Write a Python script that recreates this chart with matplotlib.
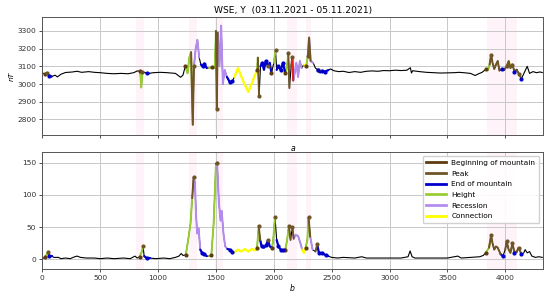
import numpy as np
import matplotlib
matplotlib.use("Agg")
import matplotlib.pyplot as plt

# ---- data (minutes since 03.11.2021 00:00) ----
top_x = [0, 20, 40, 60, 80, 110, 130, 160, 200, 260, 300, 340, 400, 450, 500, 560, 620, 680, 740, 790,
         820, 845, 855, 865, 900, 920, 960, 1020, 1080, 1120, 1150, 1175, 1195, 1215, 1235, 1255, 1270,
         1285, 1300, 1310, 1325, 1340, 1355, 1370, 1385, 1400, 1420, 1440, 1470, 1490, 1500, 1508, 1515,
         1530, 1545, 1560, 1575, 1595, 1620, 1640, 1660, 1690, 1740, 1780, 1820, 1855, 1862, 1873, 1885,
         1900, 1915, 1930, 1950, 1965, 1980, 2000, 2015, 2025, 2040, 2060, 2080, 2100, 2115, 2125, 2135,
         2150, 2160, 2168, 2180, 2195, 2210, 2225, 2240, 2260, 2280, 2295, 2305, 2318, 2340, 2360, 2380,
         2400, 2420, 2440, 2470, 2490, 2520, 2560, 2600, 2650, 2700, 2750, 2800, 2850, 2900, 2950, 3000,
         3050, 3100, 3150, 3180, 3190, 3200, 3260, 3320, 3380, 3440, 3500, 3560, 3600, 3640, 3700, 3740,
         3770, 3800, 3830, 3850, 3865, 3878, 3890, 3905, 3920, 3935, 3950, 3970, 3990, 4012, 4030, 4045,
         4062, 4080, 4100, 4120, 4140, 4165, 4190, 4210, 4240, 4270, 4300, 4320]
top_y = [3062, 3058, 3065, 3048, 3042, 3050, 3040, 3055, 3065, 3068, 3072, 3066, 3070, 3066, 3064, 3060,
         3058, 3060, 3058, 3064, 3074, 3072, 2980, 3070, 3062, 3060, 3064, 3066, 3064, 3062, 3060, 3048,
         3038, 3050, 3100, 3060, 3150, 3180, 2770, 3100, 3200, 3250, 3150, 3110, 3100, 3115, 3090, 3090,
         3095, 3090, 3300, 2860, 3290, 3100, 3330, 3000, 3080, 3040, 3010, 3015, 3040, 3090, 3010, 2955,
         3020, 3080, 3149, 2932, 3100, 3120, 3080, 3130, 3100, 3120, 3060, 3120, 3190, 3080, 3100, 3080,
         3120, 3060, 3100, 3175, 2977, 3100, 3150, 3020, 3060, 3120, 3040, 3130, 3090, 3110, 3100, 3160,
         3262, 3130, 3120, 3090, 3080, 3065, 3075, 3070, 3078, 3085, 3075, 3070, 3072, 3065, 3070, 3066,
         3072, 3074, 3072, 3076, 3075, 3078, 3076, 3078, 3092, 3062, 3075, 3070, 3066, 3064, 3062, 3063,
         3064, 3066, 3064, 3060, 3048, 3058, 3066, 3082, 3078, 3110, 3165, 3120, 3085, 3110, 3130, 3075,
         3085, 3080, 3100, 3130, 3090, 3110, 3070, 3080, 3055, 3030, 3065, 3100, 3060, 3070, 3064, 3068,
         3065]

bot_x = [0, 20, 40, 50, 60, 80, 100, 140, 160, 200, 240, 280, 300, 330, 380, 450, 500, 560, 620, 700,
         760, 800, 820, 840, 860, 870, 880, 900, 930, 980, 1050, 1100, 1150, 1180, 1200, 1215, 1240, 1260,
         1280, 1295, 1307, 1318, 1328, 1338, 1350, 1365, 1380, 1400, 1420, 1440, 1460, 1480, 1500, 1510,
         1525, 1540, 1550, 1565, 1580, 1600, 1620, 1640, 1660, 1690, 1720, 1750, 1780, 1810, 1840, 1855,
         1870, 1882, 1895, 1915, 1935, 1950, 1965, 1985, 1995, 2010, 2025, 2040, 2060, 2080, 2100, 2115,
         2130, 2145, 2160, 2172, 2190, 2210, 2230, 2245, 2260, 2275, 2290, 2300, 2315, 2335, 2360, 2375,
         2390, 2420, 2450, 2470, 2500, 2550, 2600, 2700, 2760, 2800, 2900, 3000, 3100, 3160, 3178, 3195,
         3220, 3300, 3400, 3500, 3590, 3620, 3700, 3780, 3810, 3830, 3860, 3878, 3890, 3905, 3920, 3935,
         3960, 3980, 4000, 4012, 4030, 4045, 4062, 4080, 4100, 4115, 4140, 4160, 4172, 4190, 4210, 4230,
         4260, 4290, 4320]
bot_y = [1, 3, 8, 12, 5, 5, 3, 3, 1, 2, 1, 4, 5, 3, 2, 2, 1, 2, 1, 2, 1, 5, 2, 4, 12, 20, 5, 2, 2, 1, 2, 1,
         3, 5, 9, 6, 7, 30, 55, 95, 127, 120, 70, 40, 48, 15, 10, 8, 5, 5, 6, 55, 148, 150, 90, 60, 75, 40,
         20, 16, 15, 12, 11, 15, 12, 16, 12, 16, 14, 17, 52, 30, 20, 18, 22, 30, 20, 18, 30, 66, 30, 20, 15,
         14, 15, 30, 52, 30, 50, 32, 38, 36, 25, 15, 10, 18, 30, 65, 35, 15, 12, 23, 10, 10, 6, 5, 3, 2, 3,
         2, 4, 2, 2, 2, 2, 4, 13, 4, 2, 2, 2, 2, 5, 2, 3, 4, 6, 10, 18, 37, 25, 15, 20, 18, 8, 5, 15, 28, 15,
         10, 25, 10, 12, 18, 8, 10, 15, 10, 12, 5, 3, 4, 3]

# event phases (time spans, minutes)
height_spans = [(20, 50), (840, 870), (1235, 1300), (1440, 1508), (1840, 1870), (1985, 2015), (2100, 2130), (2275, 2305), (3830, 3878)]
recession_spans = [(1307, 1365), (1510, 1600), (2160, 2245), (2305, 2340)]
connection_spans = [(1660, 1855), (2245, 2280), (4030, 4045)]
end_spans = [(60, 80), (880, 930), (1365, 1420), (1595, 1640), (1882, 1985), (2025, 2100), (2375, 2470), (3960, 3990), (4080, 4100), (4140, 4145)]
peak_spans = [(1285, 1310), (1500, 1515), (1862, 1882), (2125, 2145), (2150, 2172), (2295, 2318), (2360, 2375), (3860, 3960), (3990, 4140)]
red_spans = [(1295, 1305), (1505, 1512), (2155, 2168)]
begin_x = [20, 840, 1240, 1460, 1855, 1985, 2100, 2275, 3830]
peak_x = [50, 870, 1307, 1510, 1870, 1950, 2010, 2130, 2160, 2300, 2375, 3878, 4012, 4062, 4115]
end_x = [60, 900, 1380, 1400, 1620, 1640, 1895, 1935, 2040, 2060, 2080, 2390, 2420, 2450, 3980, 4080, 4140]
shade_spans = [(810, 880), (1270, 1335), (1490, 1560), (2115, 2200), (2280, 2320), (3840, 4100)]

legend_labels = ["Beginning of mountain", "Peak", "End of mountain", "Height", "Recession", "Connection"]
C_BEGIN, C_PEAK, C_END = "#5e3c10", "#6e5526", "#0000cd"
C_HEIGHT, C_REC, C_CONN, C_RED = "#9acd32", "#b48cf0", "#ffff00", "#e8201e"

fig = plt.figure(figsize=(5.5, 2.97), dpi=100)
ax1 = fig.add_axes([0.077, 0.5455, 0.910, 0.3963])
ax2 = fig.add_axes([0.077, 0.0943, 0.910, 0.3929])


def draw(ax, xs, ys):
    xs = np.asarray(xs, float)
    ys = np.asarray(ys, float)
    for a, b in shade_spans:
        ax.axvspan(a, b, color="#ffb0e0", alpha=0.15, lw=0, zorder=0)
    ax.plot(xs, ys, color="black", lw=0.8, zorder=2)

    def seg(spans, color, lw):
        for a, b in spans:
            m = (xs >= a) & (xs <= b)
            ax.plot(xs[m], ys[m], color=color, lw=lw, zorder=3, solid_capstyle="round")

    seg(height_spans, C_HEIGHT, 1.4)
    seg(recession_spans, C_REC, 1.4)
    seg(connection_spans, C_CONN, 1.6)
    seg(end_spans, C_END, 1.6)
    seg(peak_spans, C_PEAK, 1.4)
    seg(red_spans, C_RED, 1.3)

    def nearest(xlist):
        idx = [int(np.argmin(np.abs(xs - x))) for x in xlist]
        return xs[idx], ys[idx]

    for xl, c in ((begin_x, C_BEGIN), (peak_x, C_PEAK), (end_x, C_END)):
        px, py = nearest(xl)
        ax.plot(px, py, "o", ms=2.0, color=c, zorder=4)


draw(ax1, top_x, top_y)
draw(ax2, bot_x, bot_y)

for ax in (ax1, ax2):
    ax.set_xlim(0, 4325)
    ax.set_xticks(np.arange(0, 4001, 500))
    ax.grid(True, color="#c8c8c8", lw=0.7)
    ax.set_axisbelow(True)
    ax.tick_params(labelsize=5.4, length=2.5, width=0.6, pad=2, colors="#333333")
    for s in ax.spines.values():
        s.set_color("#555555")
        s.set_linewidth(0.7)

ax1.set_ylim(2712, 3377)
ax1.set_yticks(np.arange(2800, 3301, 100))
ax1.set_xticklabels([])
ax1.set_ylabel("nT", fontsize=5.4, style="italic", labelpad=2)
ax1.set_xlabel("a", fontsize=5.6, style="italic", labelpad=2)
ax1.set_title("WSE, Y  (03.11.2021 - 05.11.2021)", fontsize=6.6, pad=3)

ax2.set_ylim(-15, 166)
ax2.set_yticks([0, 50, 100, 150])
ax2.set_xlabel("b", fontsize=5.6, style="italic", labelpad=2)

handles = [plt.Line2D([], [], color=c, lw=2) for c in (C_BEGIN, C_PEAK, C_END, C_HEIGHT, C_REC, C_CONN)]
ax2.legend(handles, legend_labels, loc="upper right", fontsize=5.3, handlelength=2.6,
           labelspacing=0.62, borderpad=0.5, framealpha=0.9, edgecolor="#cccccc", fancybox=True)

fig.savefig("out.png", dpi=100)
